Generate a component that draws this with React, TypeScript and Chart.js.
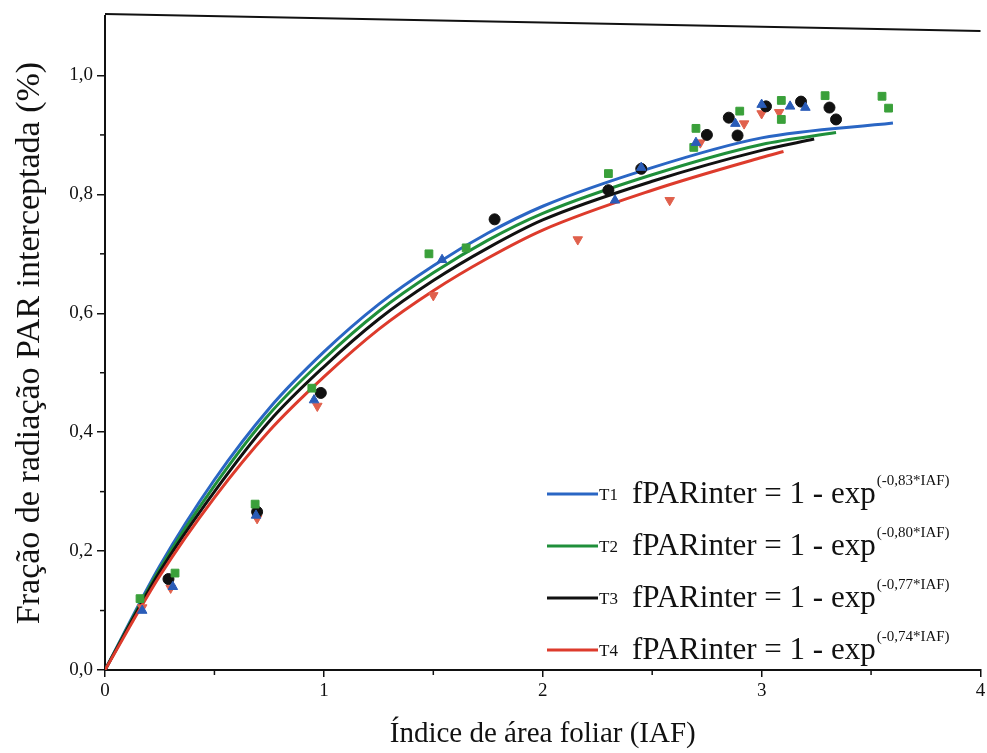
import React, { useEffect, useRef } from "react";
import { Chart, registerables } from "chart.js";

Chart.register(...registerables);

// ---- Data ----
const seriesNames = ["T1", "T2", "T3", "T4"];
const seriesCoef = ["-0,83*IAF", "-0,80*IAF", "-0,77*IAF", "-0,74*IAF"];

// Observed points
const t1X = [0.17, 0.31, 0.69, 0.955, 1.54, 2.33, 2.45, 2.7, 2.88, 3.0, 3.13, 3.2];
const t1Y = [0.10, 0.14, 0.26, 0.454, 0.69, 0.79, 0.845, 0.887, 0.919, 0.951, 0.948, 0.946];
const t2X = [0.16, 0.32, 0.686, 0.945, 1.48, 1.65, 2.3, 2.69, 2.7, 2.9, 3.09, 3.09, 3.29, 3.55, 3.58];
const t2Y = [0.12, 0.163, 0.279, 0.474, 0.70, 0.71, 0.835, 0.879, 0.911, 0.94, 0.958, 0.926, 0.966, 0.965, 0.945];
const t3X = [0.29, 0.695, 0.986, 1.78, 2.3, 2.45, 2.75, 2.85, 2.89, 3.02, 3.18, 3.31, 3.34];
const t3Y = [0.153, 0.266, 0.466, 0.758, 0.807, 0.843, 0.90, 0.929, 0.899, 0.948, 0.956, 0.946, 0.926];
const t4X = [0.17, 0.30, 0.695, 0.97, 1.5, 2.16, 2.58, 2.72, 2.92, 3.0, 3.08];
const t4Y = [0.105, 0.138, 0.255, 0.444, 0.63, 0.724, 0.79, 0.887, 0.919, 0.936, 0.938];

// Fitted curves
const fitX = [0, 0.25, 0.5, 0.75, 1, 1.25, 1.5, 1.75, 2, 2.5, 3];
const fitT1 = [0, 0.175, 0.32, 0.44, 0.535, 0.615, 0.68, 0.735, 0.78, 0.845, 0.895];
const fitT2 = [0, 0.17, 0.31, 0.43, 0.523, 0.603, 0.668, 0.723, 0.768, 0.833, 0.884];
const fitT3 = [0, 0.165, 0.30, 0.418, 0.51, 0.59, 0.655, 0.71, 0.757, 0.822, 0.874];
const fitT4 = [0, 0.158, 0.29, 0.402, 0.493, 0.573, 0.638, 0.693, 0.74, 0.807, 0.862];
const fitEndX = [3.6, 3.34, 3.24, 3.1];
const fitEndY = [0.92, 0.904, 0.893, 0.872];

const yMinorTicks = [0.1, 0.3, 0.5, 0.7, 0.9];
const xMinorTicks = [0.5, 1.5, 2.5, 3.5];

const lineColors = ["#2a66c4", "#1f8f3a", "#111111", "#dd3b2c"];
const pointColors = ["#2a5cb8", "#3aa03a", "#111111", "#e0604c"];
const pointStyles = ["triangle", "rect", "circle", "triangle"];
const pointRotations = [0, 0, 0, 180];

const SERIF = "'Liberation Serif', 'DejaVu Serif', serif";

function pts(xs: number[], ys: number[]) {
  return xs.map((x, i) => ({ x, y: ys[i] }));
}

const decorPlugin = {
  id: "decor",
  afterDraw(chart: any) {
    const ctx = chart.ctx;
    const xs = chart.scales.x;
    const ys = chart.scales.y;
    const area = chart.chartArea;
    ctx.save();
    ctx.strokeStyle = "#111";
    ctx.lineWidth = 1.5;
    yMinorTicks.forEach((v) => {
      const py = ys.getPixelForValue(v);
      ctx.beginPath();
      ctx.moveTo(area.left - 5, py);
      ctx.lineTo(area.left, py);
      ctx.stroke();
    });
    xMinorTicks.forEach((v) => {
      const px = xs.getPixelForValue(v);
      ctx.beginPath();
      ctx.moveTo(px, area.bottom);
      ctx.lineTo(px, area.bottom + 5);
      ctx.stroke();
    });
    ctx.lineWidth = 2;
    ctx.beginPath();
    ctx.moveTo(area.left, area.top - 2);
    ctx.lineTo(area.right, area.top + 15);
    ctx.stroke();

    const legendY = [494, 546, 598, 650];
    seriesNames.forEach((name, i) => {
      const y = legendY[i];
      ctx.strokeStyle = lineColors[i];
      ctx.lineWidth = 3;
      ctx.beginPath();
      ctx.moveTo(547, y);
      ctx.lineTo(598, y);
      ctx.stroke();
      ctx.fillStyle = "#111";
      ctx.textBaseline = "alphabetic";
      ctx.textAlign = "left";
      ctx.font = `17px ${SERIF}`;
      ctx.fillText(name, 599, y + 6);
      ctx.font = `31px ${SERIF}`;
      const main = "fPARinter = 1 - exp";
      ctx.fillText(main, 632, y + 9);
      const w = ctx.measureText(main).width;
      ctx.font = `15px ${SERIF}`;
      ctx.fillText("(" + seriesCoef[i] + ")", 632 + w + 1, y - 9);
    });
    ctx.restore();
  },
};

export default function App() {
  const ref = useRef<HTMLCanvasElement | null>(null);
  useEffect(() => {
    if (!ref.current) return;
    const fits = [fitT1, fitT2, fitT3, fitT4];
    const obsX = [t1X, t2X, t3X, t4X];
    const obsY = [t1Y, t2Y, t3Y, t4Y];
    const datasets: any[] = [];
    fits.forEach((f, i) => {
      const xs = fitX.filter((x) => x < fitEndX[i]).concat([fitEndX[i]]);
      const ys = f.slice(0, xs.length - 1).concat([fitEndY[i]]);
      datasets.push({
        type: "line",
        label: seriesNames[i] + " fit",
        data: pts(xs, ys),
        borderColor: lineColors[i],
        borderWidth: 3,
        pointRadius: 0,
        fill: false,
        showLine: true,
        cubicInterpolationMode: "monotone",
        order: 10 - i,
      });
    });
    obsX.forEach((xs, i) => {
      datasets.push({
        type: "scatter",
        label: seriesNames[i],
        data: pts(xs, obsY[i]),
        backgroundColor: pointColors[i],
        borderColor: pointColors[i],
        pointStyle: pointStyles[i],
        rotation: pointRotations[i],
        pointRadius: 5.5,
        borderWidth: 1,
        order: 1,
      });
    });
    const chart = new Chart(ref.current, {
      type: "scatter",
      data: { datasets },
      options: {
        animation: false,
        responsive: false,
        layout: { padding: { top: 16, right: 2, left: 0, bottom: 0 } },
        plugins: { legend: { display: false }, tooltip: { enabled: false } },
        scales: {
          x: {
            type: "linear",
            min: 0,
            max: 4,
            afterFit: (s: any) => {
              s.height = 83;
              s.paddingRight = 0;
              s.paddingLeft = 0;
            },
            ticks: {
              stepSize: 1,
              includeBounds: false,
              color: "#111",
              font: { family: SERIF, size: 19 },
              padding: 3,
              callback: (v: any) => String(v),
            },
            grid: {
              drawOnChartArea: false,
              drawTicks: true,
              tickLength: 7,
              color: "#111",
              lineWidth: 1.5,
            },
            border: { display: true, color: "#111", width: 2 },
            title: {
              display: true,
              text: "Índice de área foliar (IAF)",
              color: "#111",
              font: { family: SERIF, size: 29 },
              padding: { top: 0, bottom: 1 },
            },
          },
          y: {
            type: "linear",
            min: 0,
            max: 1.1,
            afterFit: (s: any) => {
              s.width = 105;
            },
            ticks: {
              stepSize: 0.2,
              includeBounds: false,
              color: "#111",
              font: { family: SERIF, size: 19 },
              padding: 4,
              callback: (v: any) => Number(v).toFixed(1).replace(".", ","),
            },
            grid: {
              drawOnChartArea: false,
              drawTicks: true,
              tickLength: 8,
              color: "#111",
              lineWidth: 1.5,
            },
            border: { display: true, color: "#111", width: 2 },
            title: {
              display: true,
              text: "Fração de radiação PAR interceptada (%)",
              color: "#111",
              font: { family: SERIF, size: 34 },
              padding: { top: 10, bottom: 0 },
            },
          },
        },
      },
      plugins: [decorPlugin],
    } as any);
    return () => chart.destroy();
  }, []);
  return (
    <div style={{ position: "fixed", left: 0, top: 0, width: 987, height: 753, background: "#fff" }}>
      <canvas ref={ref} width={987} height={753} style={{ width: 987, height: 753, display: "block" }} />
    </div>
  );
}
